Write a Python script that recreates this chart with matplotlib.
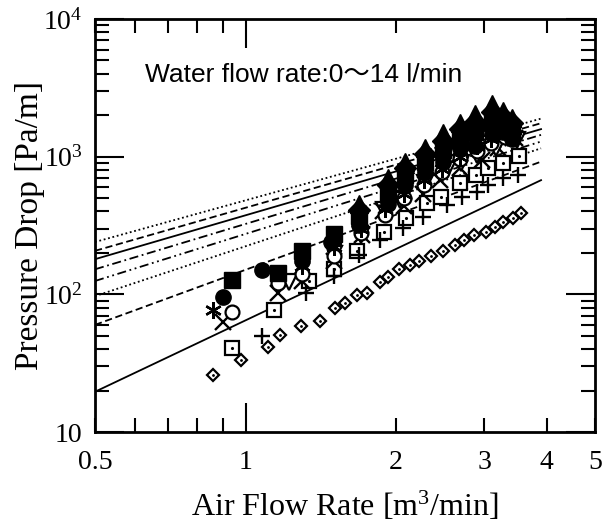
import matplotlib.pyplot as plt
from matplotlib.ticker import FixedLocator, FixedFormatter, NullFormatter

plt.rcParams['font.family'] = ['Liberation Serif']

# --- correlation lines (log-log straight lines between end points) ---
line_x = [0.5, 3.9]
line_left = [240, 207, 180, 152, 125, 97, 60, 19.6]
line_right = [1890, 1750, 1585, 1440, 1288, 1150, 920, 675]
line_styles = [(0, (1, 1.5)), (0, (4, 2)), '-', (0, (5, 2, 1, 2)),
               (0, (5, 2, 1, 2, 1, 2)), (0, (1, 1.5)), (0, (4, 2)), '-']

# --- measured points ---
dia_x = [0.86, 0.98, 1.11, 1.17, 1.29, 1.41, 1.51, 1.58, 1.67, 1.75, 1.86, 1.93, 2.03,
         2.13, 2.22, 2.35, 2.48, 2.62, 2.74, 2.86, 3.02, 3.16, 3.28, 3.43, 3.55]
dia_y = [25.9, 33.4, 41.4, 50.6, 58.8, 64, 80, 87, 98.6, 103, 122, 133, 153,
         162, 176, 191, 208, 227, 247, 268, 284, 309, 336, 356, 387]

sq_x = [0.94, 1.14, 1.34, 1.50, 1.67, 1.89, 2.09, 2.31, 2.46, 2.69, 2.89, 3.05, 3.28, 3.52]
sq_y = [40.6, 77, 126, 153, 208, 284, 356, 458, 513, 642, 740, 827, 900, 1007]

plus_x = [1.08, 1.32, 1.50, 1.69, 1.86, 2.065, 2.26, 2.53, 2.71, 2.90, 3.05, 3.27, 3.51]
plus_y = [50, 103, 135, 193, 248, 303, 364, 445, 509, 553, 622, 699, 735]

x_x = [0.90, 1.16, 1.30, 1.50, 1.71, 1.88, 2.07, 2.26, 2.45, 2.69, 2.97, 3.20, 3.46]
x_y = [63, 102, 125, 175, 269, 400, 440, 540, 676, 826, 944, 1155, 1365]

tri_x = [1.22, 1.50, 1.70, 1.89, 2.04, 2.29, 2.53, 2.70, 2.90, 3.17, 3.49]
tri_y = [122, 197, 270, 409, 484, 643, 800, 900, 1028, 1155, 1320]

oc_x = [0.94, 1.16, 1.30, 1.50, 1.70, 1.90, 2.07, 2.27, 2.47, 2.69, 2.90, 3.10, 3.30]
oc_y = [74, 121, 140, 190, 280, 380, 500, 620, 780, 960, 1100, 1250, 1400]

ast_x = [0.86, 1.30, 1.50, 1.70, 1.90, 2.07, 2.27, 2.47, 2.69, 2.90, 3.10, 3.30, 3.45]
ast_y = [77, 160, 220, 300, 420, 540, 680, 820, 1000, 1200, 1350, 1500, 1550]

fc_x = [0.90, 1.08, 1.30, 1.48, 1.69, 1.93, 2.085, 2.285, 2.48, 2.69, 2.88, 3.11, 3.27, 3.41]
fc_y = [96, 150, 175, 240, 320, 450, 620, 780, 920, 1150, 1200, 1450, 1500, 1350]

fs_x = [0.94, 1.16, 1.30, 1.50, 1.69, 1.93, 2.085, 2.285, 2.48, 2.69, 2.88, 3.11, 3.27, 3.41]
fs_y = [127, 143, 205, 275, 370, 540, 730, 920, 1120, 1350, 1500, 1750, 1750, 1550]

stack_x = [1.69, 1.93, 2.085, 2.285, 2.48, 2.69, 2.88, 3.11, 3.27, 3.41]
fd_y = [410, 620, 830, 1050, 1300, 1580, 1800, 2100, 1950, 1750]
ft_y = [450, 700, 920, 1150, 1480, 1760, 2050, 2420, 2150, 1900]

fig = plt.figure(figsize=(6.13, 5.26), dpi=100)
ax = fig.add_axes([95 / 613, 1 - 432 / 526, 500 / 613, 413 / 526])
ax.set_xscale('log')
ax.set_yscale('log')

for yl, yr, ls in zip(line_left, line_right, line_styles):
    ax.plot(line_x, [yl, yr], color='black', lw=1.3, linestyle=ls)

k = dict(color='black', linestyle='none')
ax.plot(dia_x, dia_y, marker='D', ms=6.5, mfc='white', mew=1.6, **k)
ax.plot(dia_x, dia_y, marker='.', ms=2, **k)
ax.plot(sq_x, sq_y, marker='s', ms=10, mfc='white', mew=1.6, **k)
ax.plot(sq_x, sq_y, marker='.', ms=2.5, **k)
ax.plot(plus_x, plus_y, marker='+', ms=12, mew=1.7, **k)
ax.plot(x_x, x_y, marker='x', ms=11, mew=1.7, **k)
ax.plot(tri_x, tri_y, marker='v', ms=11, mfc='white', mew=1.6, **k)
ax.plot(oc_x, oc_y, marker='o', ms=10, mfc='white', mew=1.6, **k)
ax.plot(ast_x, ast_y, marker=(6, 2, 0), ms=12, mew=1.7, **k)
ax.plot(fc_x, fc_y, marker='o', ms=11, **k)
ax.plot(fs_x, fs_y, marker='s', ms=11, **k)
ax.plot(stack_x, fd_y, marker='D', ms=11, **k)
ax.plot(stack_x, ft_y, marker='^', ms=13, **k)

ax.set_xlim(0.5, 5)
ax.set_ylim(10, 1e4)

ax.text(0.63, 3900, 'Water flow rate:0～14 l/min', fontsize=19,
        family=['Liberation Sans', 'Noto Sans CJK JP'], va='center')

# ticks
ax.xaxis.set_major_locator(FixedLocator([1]))
ax.xaxis.set_major_formatter(FixedFormatter(['1']))
minor_x = [0.5, 0.6, 0.7, 0.8, 0.9, 2, 3, 4, 5]
ax.xaxis.set_minor_locator(FixedLocator(minor_x))
ax.xaxis.set_minor_formatter(FixedFormatter(['0.5', '', '', '', '', '2', '3', '4', '5']))
ax.yaxis.set_major_locator(FixedLocator([10, 100, 1000, 10000]))
ax.yaxis.set_major_formatter(FixedFormatter(['10', r'$\mathregular{10^2}$',
                                             r'$\mathregular{10^3}$', r'$\mathregular{10^4}$']))
ax.yaxis.set_minor_locator(FixedLocator([m * d for d in (10, 100, 1000) for m in range(2, 10)]))
ax.yaxis.set_minor_formatter(NullFormatter())

ax.tick_params(which='both', direction='in', top=True, right=True, width=1.5,
               labelsize=20, pad=9)
ax.tick_params(which='major', length=21)
ax.tick_params(which='minor', length=10)
ax.tick_params(axis='x', which='both', pad=13)
for s in ax.spines.values():
    s.set_linewidth(2)

ax.set_xlabel(r'Air Flow Rate [m$\mathregular{^3}$/min]', fontsize=23)
ax.set_ylabel('Pressure Drop [Pa/m]', fontsize=24)
ax.xaxis.set_label_coords(0.5, -0.14)
ax.yaxis.set_label_coords(-0.1, 0.5)

fig.savefig('out.png', dpi=100)
